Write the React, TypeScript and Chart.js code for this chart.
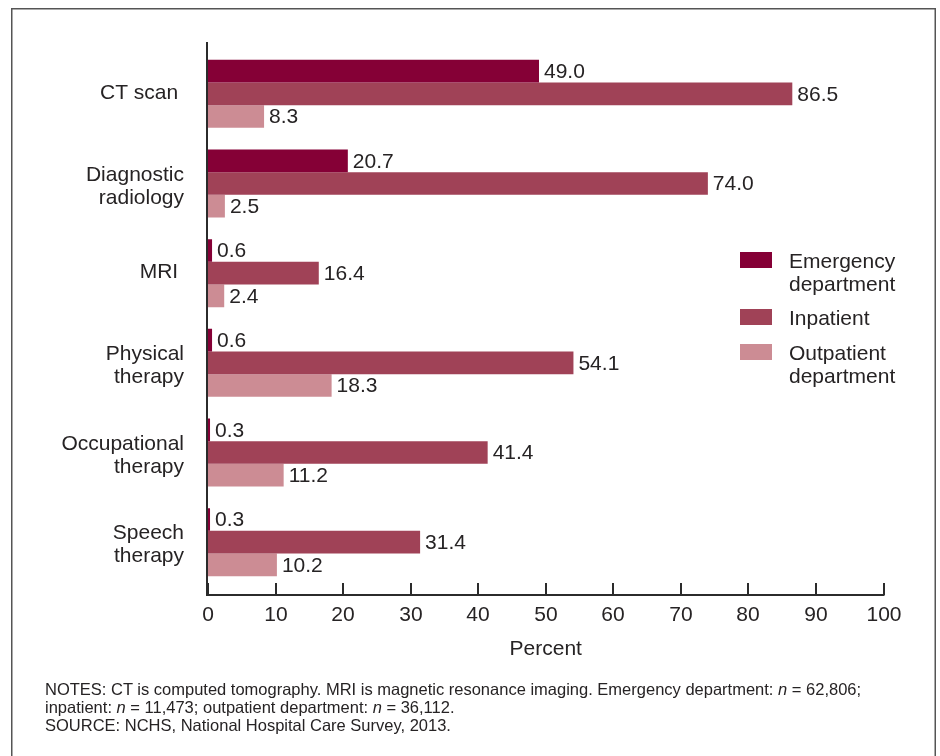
import React, { useEffect, useRef } from "react";
import { Chart, registerables } from "chart.js";

Chart.register(...registerables);

const CATEGORIES: string[][] = [
  ["CT scan "],
  ["Diagnostic", "radiology"],
  ["MRI "],
  ["Physical", "therapy"],
  ["Occupational", "therapy"],
  ["Speech", "therapy"],
];
const SERIES_NAMES: string[][] = [
  ["Emergency", "department"],
  ["Inpatient"],
  ["Outpatient", "department"],
];
const EMERGENCY = [49.0, 20.7, 0.6, 0.6, 0.3, 0.3];
const INPATIENT = [86.5, 74.0, 16.4, 54.1, 41.4, 31.4];
const OUTPATIENT = [8.3, 2.5, 2.4, 18.3, 11.2, 10.2];
const X_TICKS = [0, 10, 20, 30, 40, 50, 60, 70, 80, 90, 100];
const COLORS = ["#850036", "#A04257", "#CC8C94"];

const FONT = '"Liberation Sans", Arial, Helvetica, sans-serif';
const TEXT = "#262324";

const drawPlugin = {
  id: "customDraw",
  afterDraw(chart: any) {
    const ctx = chart.ctx as CanvasRenderingContext2D;
    const xs = chart.scales.x;
    const ys = chart.scales.y;
    const area = chart.chartArea;
    ctx.save();

    // frame
    ctx.strokeStyle = "#555";
    ctx.lineWidth = 1.5;
    ctx.beginPath();
    ctx.moveTo(11.75, 760);
    ctx.lineTo(11.75, 8.75);
    ctx.lineTo(935.25, 8.75);
    ctx.lineTo(935.25, 760);
    ctx.stroke();

    const x0 = xs.getPixelForValue(0);
    const axisY = area.bottom + 8;

    // y axis line
    ctx.strokeStyle = "#2b2b2b";
    ctx.lineWidth = 2;
    ctx.beginPath();
    ctx.moveTo(x0 - 1, 42);
    ctx.lineTo(x0 - 1, axisY + 1);
    ctx.stroke();

    // x axis line
    ctx.beginPath();
    ctx.moveTo(x0 - 2, axisY);
    ctx.lineTo(xs.getPixelForValue(100) + 1, axisY);
    ctx.stroke();

    // ticks + tick labels
    ctx.fillStyle = TEXT;
    ctx.font = `21px ${FONT}`;
    ctx.textAlign = "center";
    ctx.textBaseline = "middle";
    X_TICKS.forEach((v) => {
      const px = Math.round(xs.getPixelForValue(v));
      ctx.beginPath();
      ctx.moveTo(px, axisY - 12);
      ctx.lineTo(px, axisY);
      ctx.stroke();
      ctx.fillText(String(v), px, axisY + 20);
    });
    ctx.fillText("Percent", (xs.getPixelForValue(0) + xs.getPixelForValue(100)) / 2, axisY + 54);

    // category labels
    ctx.textAlign = "right";
    CATEGORIES.forEach((lines, i) => {
      const cy = ys.getPixelForValue(i);
      const lh = 23;
      const start = lines.length > 1 ? cy - ((lines.length - 1) * lh) / 2 + 3 : cy - 1;
      lines.forEach((t, j) => ctx.fillText(t, 184, start + j * lh));
    });

    // value labels
    ctx.textAlign = "left";
    chart.data.datasets.forEach((ds: any, di: number) => {
      const meta = chart.getDatasetMeta(di);
      meta.data.forEach((el: any, i: number) => {
        const v = ds.data[i] as number;
        ctx.fillText(v.toFixed(1), el.x + 5, el.y + 1);
      });
    });

    // legend
    const legendRows = [
      { box: 252, text: 262 },
      { box: 309, text: 319 },
      { box: 344, text: 354 },
    ];
    SERIES_NAMES.forEach((lines, i) => {
      ctx.fillStyle = COLORS[i];
      ctx.fillRect(740, legendRows[i].box, 32, 16);
      ctx.fillStyle = TEXT;
      lines.forEach((t, j) => ctx.fillText(t, 789, legendRows[i].text + j * 23));
    });

    ctx.restore();
  },
};

export default function App() {
  const ref = useRef<HTMLCanvasElement>(null);
  useEffect(() => {
    if (!ref.current) return;
    const chart = new Chart(ref.current, {
      type: "bar",
      data: {
        labels: CATEGORIES.map((c) => c.join(" ").trim()),
        datasets: [
          { label: SERIES_NAMES[0].join(" "), data: EMERGENCY, backgroundColor: COLORS[0] },
          { label: SERIES_NAMES[1].join(" "), data: INPATIENT, backgroundColor: COLORS[1] },
          { label: SERIES_NAMES[2].join(" "), data: OUTPATIENT, backgroundColor: COLORS[2] },
        ],
      },
      options: {
        indexAxis: "y",
        responsive: false,
        animation: false,
        devicePixelRatio: 1,
        layout: { padding: { left: 208, right: 56.5, top: 49, bottom: 169 } },
        datasets: { bar: { categoryPercentage: 0.758, barPercentage: 1.0, borderWidth: 0 } },
        scales: {
          x: { display: false, min: 0, max: 100 },
          y: { display: false },
        },
        plugins: { legend: { display: false }, tooltip: { enabled: false } },
      },
      plugins: [drawPlugin],
    } as any);
    return () => chart.destroy();
  }, []);

  const noteStyle: React.CSSProperties = {
    position: "absolute",
    left: 45,
    top: 680,
    fontFamily: FONT,
    fontSize: 16.5,
    lineHeight: "18px",
    color: TEXT,
    whiteSpace: "nowrap",
  };

  return (
    <div style={{ position: "absolute", left: 0, top: 0, width: 940, height: 756, background: "#fff", overflow: "hidden" }}>
      <canvas ref={ref} width={940} height={756} style={{ position: "absolute", left: 0, top: 0, width: 940, height: 756 }} />
      <div style={noteStyle}>
        NOTES: CT is computed tomography. MRI is magnetic resonance imaging. Emergency department: <i>n</i> = 62,806;
        <br />
        inpatient: <i>n</i> = 11,473; outpatient department: <i>n</i> = 36,112.
        <br />
        SOURCE: NCHS, National Hospital Care Survey, 2013.
      </div>
    </div>
  );
}
